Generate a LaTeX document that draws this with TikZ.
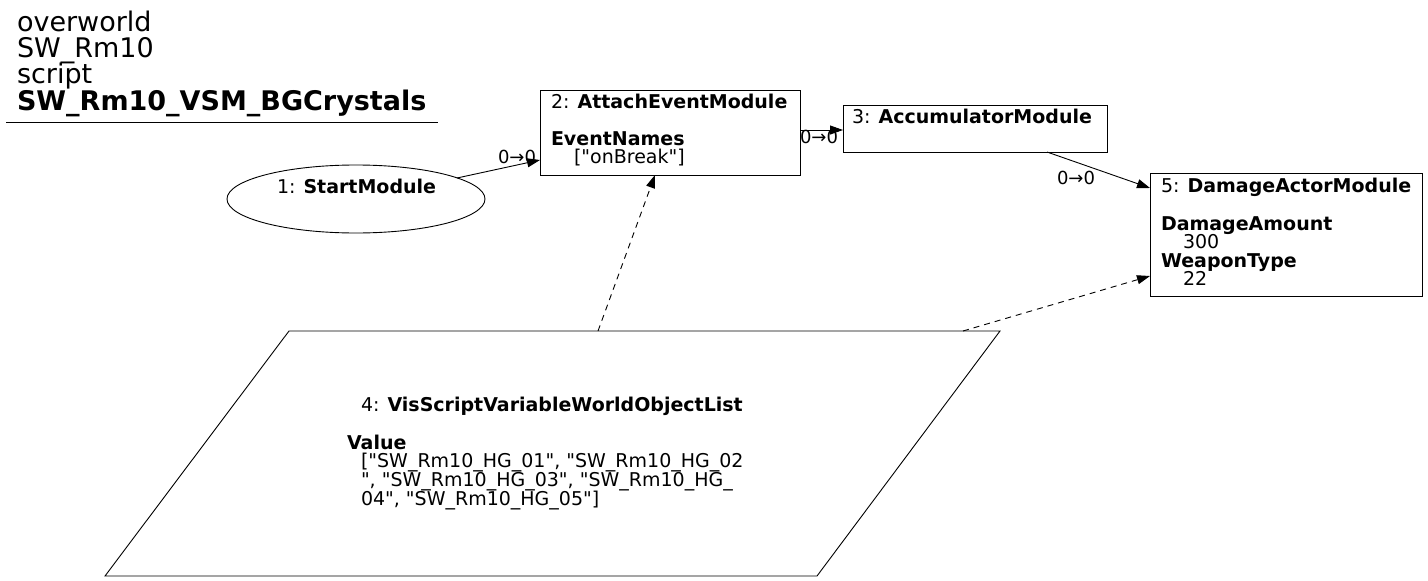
\documentclass[tikz,border=0pt]{standalone}
\usepackage{fontspec}
\setmainfont{DejaVu Sans}
\usetikzlibrary{arrows.meta,calc,shapes.geometric}
\newcommand{\myq}{\textquotedbl}
\begin{document}
\begin{tikzpicture}[x=1pt,y=-1pt,
  every node/.style={inner sep=0pt,outer sep=0pt},
  box/.style={draw,line width=0.9pt,anchor=north west},
  txt/.style={anchor=base west,font=\fontsize{19}{19}\selectfont},
  ttl/.style={anchor=base west,font=\fontsize{27}{27}\selectfont},
  lbl/.style={anchor=base,font=\fontsize{18}{18}\selectfont},
  edge/.style={line width=0.9pt,-{Triangle[length=13pt,width=9pt]}},
  dedge/.style={edge,dash pattern=on 6pt off 5pt}]
\useasboundingbox (0,0) rectangle (1428,581);
% title
\node[ttl] (ta) at (17,31) {overworld};
\node[ttl] (tb) at (17,57) {SW\_Rm10};
\node[ttl] (tc) at (17,83) {script};
\node[ttl] (td) at (17,110) {\textbf{SW\_Rm10\_VSM\_BGCrystals}};
\draw[line width=0.9pt] (6,122) -- (438,122);
% node 1
\node[draw,ellipse,line width=0.9pt,minimum width=258pt,minimum height=68pt] (n1) at (356,199) {};
\node[txt] (t1) at (277,193) {1: \textbf{StartModule}};
% node 2
\node[box,minimum width=260pt,minimum height=85pt] (n2) at (540,90) {};
\node[txt] (t2a) at (551,108) {2: \textbf{AttachEventModule}};
\node[txt] (t2b) at (551,145) {\textbf{EventNames}};
\node[txt] (t2c) at (574,163) {[\myq onBreak\myq]};
% node 3
\node[box,minimum width=264pt,minimum height=47pt] (n3) at (843,105) {};
\node[txt] (t3) at (852,123) {3: \textbf{AccumulatorModule}};
% node 5
\node[box,minimum width=272pt,minimum height=123pt] (n5) at (1150,173) {};
\node[txt] (t5a) at (1161,192) {5: \textbf{DamageActorModule}};
\node[txt] (t5b) at (1161,230) {\textbf{DamageAmount}};
\node[txt] (t5c) at (1183,248) {300};
\node[txt] (t5d) at (1161,267) {\textbf{WeaponType}};
\node[txt] (t5e) at (1183,285) {22};
% node 4 (parallelogram)
\node[anchor=north west,minimum width=895pt,minimum height=245pt] (n4) at (105,331) {};
\draw[line width=0.9pt] ([xshift=184pt]n4.north west) -- (n4.north east) -- ([xshift=-183pt]n4.south east) -- (n4.south west) -- cycle;
\node[txt] (t4a) at (361,411) {4: \textbf{VisScriptVariableWorldObjectList}};
\node[txt] (t4b) at (347,449) {\textbf{Value}};
\node[txt] (t4c) at (361,467) {[\myq SW\_Rm10\_HG\_01\myq, \myq SW\_Rm10\_HG\_02};
\node[txt] (t4d) at (361,486) {\myq, \myq SW\_Rm10\_HG\_03\myq, \myq SW\_Rm10\_HG\_};
\node[txt] (t4e) at (361,505) {04\myq, \myq SW\_Rm10\_HG\_05\myq]};
% edges
\draw[edge] ($(n1.center)+(101,-21)$) -- ($(n2.north west)+(0,70)$);
\node[lbl] (l12) at (517,163) {0→0};
\draw[edge] ($(n2.north east)+(0,40)$) -- ($(n3.north west)+(0,25)$);
\node[lbl] (l23) at (819,143) {0→0};
\draw[edge] ($(n3.south west)+(204,0)$) -- ($(n5.north west)+(0,15)$);
\node[lbl] (l35) at (1076,184) {0→0};
\draw[dedge] ($(n4.north west)+(493,0)$) -- ($(n2.south west)+(115,0)$);
\draw[dedge] ($(n4.north west)+(858,0)$) -- ($(n5.north west)+(0,103)$);
\end{tikzpicture}
\end{document}
